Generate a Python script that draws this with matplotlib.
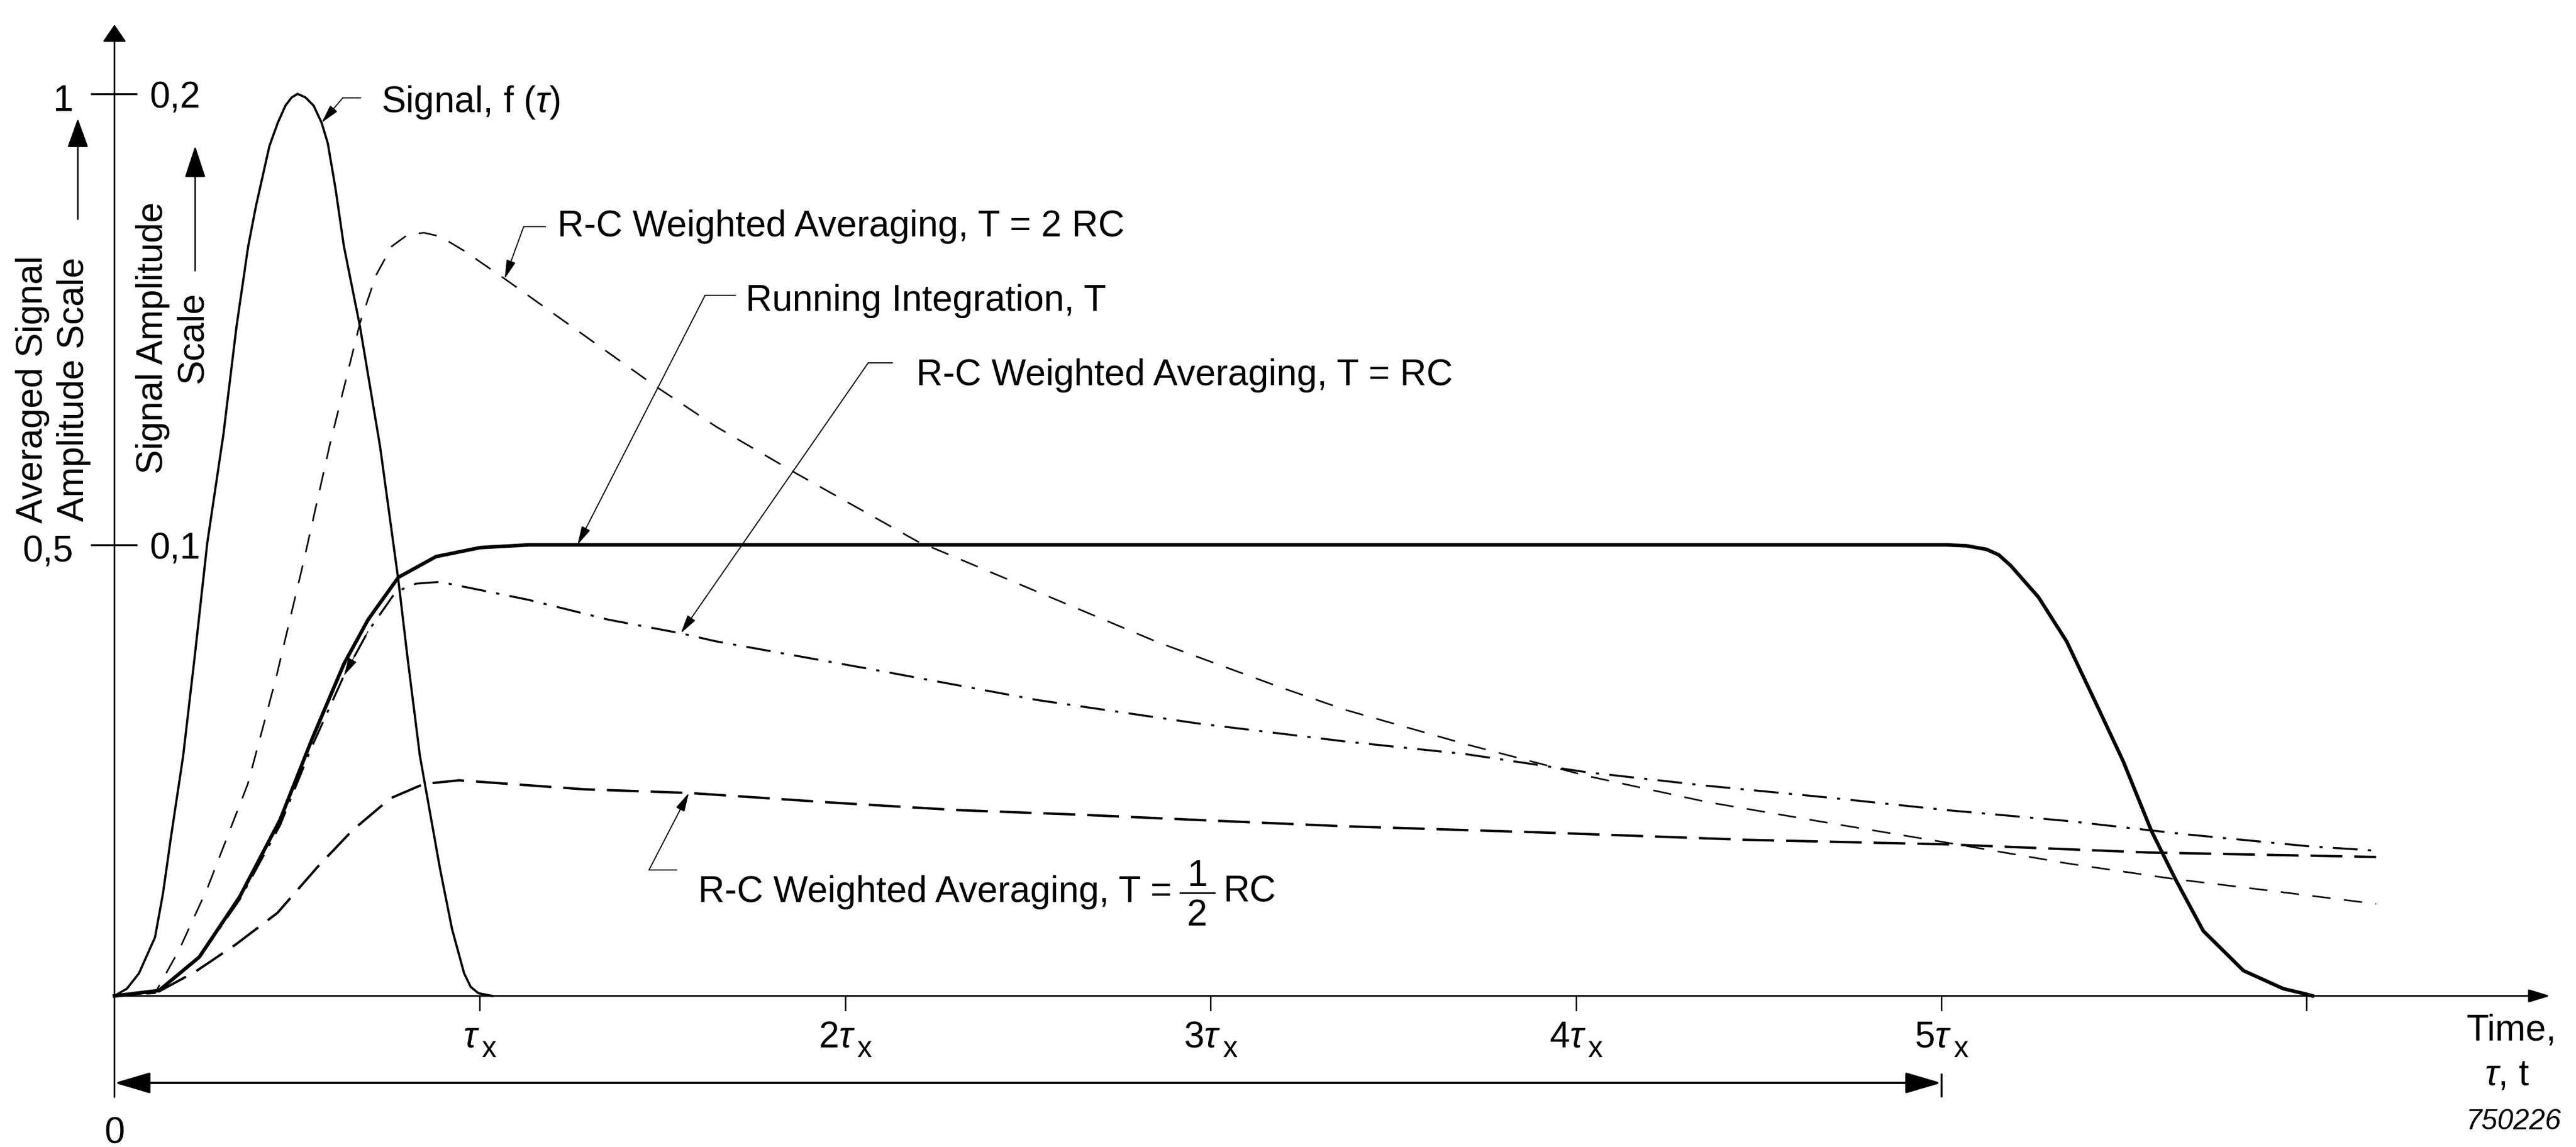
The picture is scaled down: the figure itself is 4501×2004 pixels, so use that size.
import matplotlib
matplotlib.use("Agg")
import matplotlib.pyplot as plt

plt.rcParams["font.family"] = ["Liberation Sans", "DejaVu Sans"]
plt.rcParams["mathtext.fontset"] = "custom"
plt.rcParams["mathtext.rm"] = "Liberation Sans"
plt.rcParams["mathtext.it"] = "Liberation Sans:italic"
plt.rcParams["mathtext.bf"] = "Liberation Sans:bold"
plt.rcParams["lines.scale_dashes"] = False

# time in units of tau_x, amplitude on the averaged signal scale (0..1)
signal_t = [0.0, 0.034, 0.067, 0.111, 0.133, 0.155, 0.188, 0.221, 0.254, 0.298, 0.334,
            0.366, 0.387, 0.424, 0.447, 0.468, 0.485, 0.501, 0.523, 0.545, 0.567, 0.584,
            0.605, 0.628, 0.672, 0.727, 0.777, 0.803, 0.836, 0.891, 0.924, 0.957, 0.975,
            0.996, 1.034]
signal_y = [0.0, 0.008, 0.025, 0.065, 0.114, 0.177, 0.266, 0.381, 0.502, 0.622, 0.742,
            0.831, 0.875, 0.942, 0.968, 0.987, 0.996, 1.000, 0.996, 0.987, 0.968, 0.945,
            0.895, 0.831, 0.742, 0.609, 0.461, 0.372, 0.266, 0.141, 0.074, 0.025, 0.010,
            0.003, 0.0]

# R-C weighted averaging, T = 2 RC
rc2_t = [0.0, 0.111, 0.177, 0.254, 0.365, 0.442, 0.518, 0.590, 0.672, 0.716, 0.759,
         0.803, 0.847, 0.891, 0.957, 1.068, 1.484, 1.647, 1.867, 2.197, 2.526, 2.856,
         3.185, 3.370, 3.699, 4.029, 4.358, 4.688, 5.014, 5.343, 5.630, 5.893, 6.190]
rc2_y = [0.0, 0.003, 0.051, 0.119, 0.235, 0.352, 0.482, 0.612, 0.746, 0.799, 0.831,
         0.844, 0.846, 0.842, 0.826, 0.795, 0.675, 0.631, 0.579, 0.504, 0.448, 0.392,
         0.343, 0.317, 0.279, 0.244, 0.215, 0.192, 0.170, 0.147, 0.130, 0.117, 0.102]

# running integration over T
run_t = [0.0, 0.122, 0.232, 0.343, 0.453, 0.540, 0.628, 0.694, 0.777, 0.880, 1.001,
         1.134, 5.014, 5.069, 5.124, 5.157, 5.190, 5.266, 5.343, 5.432, 5.498, 5.575,
         5.640, 5.717, 5.827, 5.936, 5.998, 6.016]
run_y = [0.0, 0.006, 0.043, 0.110, 0.195, 0.284, 0.368, 0.417, 0.464, 0.487, 0.497,
         0.500, 0.500, 0.499, 0.495, 0.489, 0.477, 0.442, 0.393, 0.317, 0.260, 0.183,
         0.130, 0.072, 0.028, 0.008, 0.002, 0.0]

# R-C weighted averaging, T = RC
rc1_t = [0.0, 0.122, 0.232, 0.343, 0.453, 0.540, 0.628, 0.694, 0.770, 0.825, 0.891,
         1.134, 1.353, 1.550, 1.647, 2.087, 2.526, 2.966, 3.370, 3.699, 4.029, 4.358,
         4.688, 5.014, 5.343, 5.673, 6.002, 6.190]
rc1_y = [0.0, 0.006, 0.042, 0.107, 0.189, 0.276, 0.355, 0.404, 0.448, 0.457, 0.459,
         0.439, 0.417, 0.402, 0.393, 0.361, 0.328, 0.302, 0.282, 0.268, 0.248, 0.233,
         0.220, 0.206, 0.194, 0.179, 0.166, 0.161]

# R-C weighted averaging, T = 1/2 RC
rch_t = [0.0, 0.122, 0.222, 0.332, 0.446, 0.556, 0.650, 0.755, 0.847, 0.943, 1.012,
         1.287, 1.572, 1.976, 2.307, 2.635, 2.966, 3.370, 3.920, 4.469, 5.014, 5.564,
         6.190]
rch_y = [0.0, 0.005, 0.027, 0.057, 0.092, 0.143, 0.183, 0.219, 0.235, 0.239, 0.237,
         0.229, 0.225, 0.214, 0.206, 0.201, 0.195, 0.188, 0.181, 0.173, 0.168, 0.159,
         0.154]

time_ticks = [1, 2, 3, 4, 5, 6]
time_labels = [r"$\tau$", r"2$\tau$", r"3$\tau$", r"4$\tau$", r"5$\tau$", ""]
amp_ticks = [0.5, 1.0]
avg_labels = ["0,5", "1"]
sig_labels = ["0,1", "0,2"]

W, H, DPI = 4501, 2004, 100
X0, XU = 200, 638.4   # pixel column of t=0, pixels per tau_x
Y0, YU = 1740, 1576   # pixel row of zero, pixels per unit amplitude
FS = 46

fig = plt.figure(figsize=(W / DPI, H / DPI), dpi=DPI)
ax = fig.add_axes([0, 0, 1, 1])
ax.set_xlim(-X0 / XU, (W - X0) / XU)
ax.set_ylim(-(H - Y0) / YU, Y0 / YU)
ax.axis("off")
renderer = fig.canvas.get_renderer()


def dx(px):
    return (px - X0) / XU


def dy(py):
    return (Y0 - py) / YU


def arrow(start, end, hl, hw, lw, style="-|>"):
    ax.annotate("", xy=end, xytext=start,
                arrowprops=dict(arrowstyle=f"{style},head_length={hl},head_width={hw}",
                                mutation_scale=1, lw=lw, color="k",
                                shrinkA=0, shrinkB=0))


def leader(tip, elbow, stub):
    # thin pointer line: short stub at the label, then a slanted line with arrow
    ax.plot([dx(stub[0]), dx(elbow[0])], [dy(stub[1]), dy(elbow[1])], color="k", lw=1.4)
    arrow((dx(elbow[0]), dy(elbow[1])), tip, 20, 5, 1.4)


# axes
arrow((0, dy(1917)), (0, dy(43)), 19, 13, 2.0)
arrow((0, 0), (dx(4456), 0), 23, 7, 2.2)
for t in time_ticks:
    ax.plot([t, t], [0, dy(1765)], color="k", lw=1.8)
for t, lab in zip(time_ticks, time_labels):
    if not lab:
        continue
    main = ax.text(t, dy(1829), lab, ha="left", va="baseline", fontsize=FS)
    sub = ax.text(t, dy(1847), "x", ha="left", va="baseline", fontsize=37)
    w1 = main.get_window_extent(renderer=renderer).width
    w2 = sub.get_window_extent(renderer=renderer).width
    left = X0 + t * XU - (w1 + w2 + 3) / 2
    main.set_x(dx(left))
    sub.set_x(dx(left + w1 + 3))
for v in amp_ticks:
    ax.plot([dx(160), dx(238)], [v, v], color="k", lw=2.5)
for v, lab in zip(amp_ticks, avg_labels):
    ax.text(dx(128), v - 0.008, lab, ha="right", va="center", fontsize=FS)
for v, lab in zip(amp_ticks, sig_labels):
    ax.text(dx(262), v - 0.005, lab, ha="left", va="center", fontsize=FS)
ax.text(0, dy(1980), "0", ha="center", va="center", fontsize=FS)

# span arrow under the axis
arrow((0, dy(1892)), (5, dy(1892)), 39, 11.5, 2.8, style="<|-|>")
ax.plot([5, 5], [dy(1877), dy(1915)], color="k", lw=2.5)

# scale captions
ax.text(dx(93), dy(680), "Averaged Signal\nAmplitude Scale", rotation=90,
        ha="center", va="center", multialignment="center", fontsize=FS, linespacing=1.25)
arrow((dx(136), dy(383)), (dx(136), dy(207)), 32, 11.5, 2.0)
ax.text(dx(302), dy(590), "Signal Amplitude\nScale", rotation=90,
        ha="center", va="center", multialignment="center", fontsize=FS, linespacing=1.2)
arrow((dx(341), dy(473)), (dx(341), dy(255)), 35, 11.5, 2.0)

ax.text(dx(4388), dy(1801), "Time,", ha="center", va="center", fontsize=FS)
ax.text(dx(4380), dy(1878), r"$\tau$, t", ha="center", va="center", fontsize=FS)
ax.text(dx(4392), dy(1960), "750226", ha="center", va="center", fontsize=36, style="italic")

# curves
ax.plot(rch_t, rch_y, color="k", lw=3.0, linestyle=(0, (40, 15)), zorder=3)
ax.plot(rc1_t, rc1_y, color="k", lw=2.5, linestyle=(0, (31, 13, 4, 13)), zorder=3)
ax.plot(rc2_t, rc2_y, color="k", lw=2.0, linestyle=(0, (23, 17)), zorder=3)
ax.plot(signal_t, signal_y, color="k", lw=2.8, zorder=4)
ax.plot(run_t, run_y, color="k", lw=4.5, zorder=4)
arrow((rc1_t[7], rc1_y[7]), (rc1_t[6], rc1_y[6]), 20, 5, 1.0)

# curve labels
ax.text(dx(666), dy(196), r"Signal, f ($\tau$)", ha="left", va="baseline", fontsize=FS)
leader((signal_t[20], signal_y[20]), (599, 171), (630, 171))

ax.text(dx(974), dy(413), "R-C Weighted Averaging, T = 2 RC", ha="left", va="baseline", fontsize=FS)
leader((rc2_t[15], rc2_y[15]), (915, 396), (953, 396))

ax.text(dx(1303), dy(543), "Running Integration, T", ha="left", va="baseline", fontsize=FS)
leader((dx(1009), run_y[11]), (1232, 516), (1285, 516))

ax.text(dx(1601), dy(673), "R-C Weighted Averaging, T = RC", ha="left", va="baseline", fontsize=FS)
leader((rc1_t[13], rc1_y[13]), (1517, 634), (1559, 634))

half = ax.text(dx(1220), dy(1576), "R-C Weighted Averaging, T =", ha="left", va="baseline",
               fontsize=FS)
leader((rch_t[12], rch_y[12]), (1134, 1520), (1182, 1520))
bb = half.get_window_extent(renderer=renderer)
fx0 = bb.x1 + 14
ax.plot([dx(fx0), dx(fx0 + 60)], [dy(1560), dy(1560)], color="k", lw=2.0)
ax.text(dx(fx0 + 30), dy(1531), "1", ha="center", va="center", fontsize=FS)
ax.text(dx(fx0 + 30), dy(1600), "2", ha="center", va="center", fontsize=FS)
ax.text(dx(fx0 + 76), dy(1576), "RC", ha="left", va="baseline", fontsize=FS)

fig.savefig("out.png", dpi=DPI, facecolor="white")
